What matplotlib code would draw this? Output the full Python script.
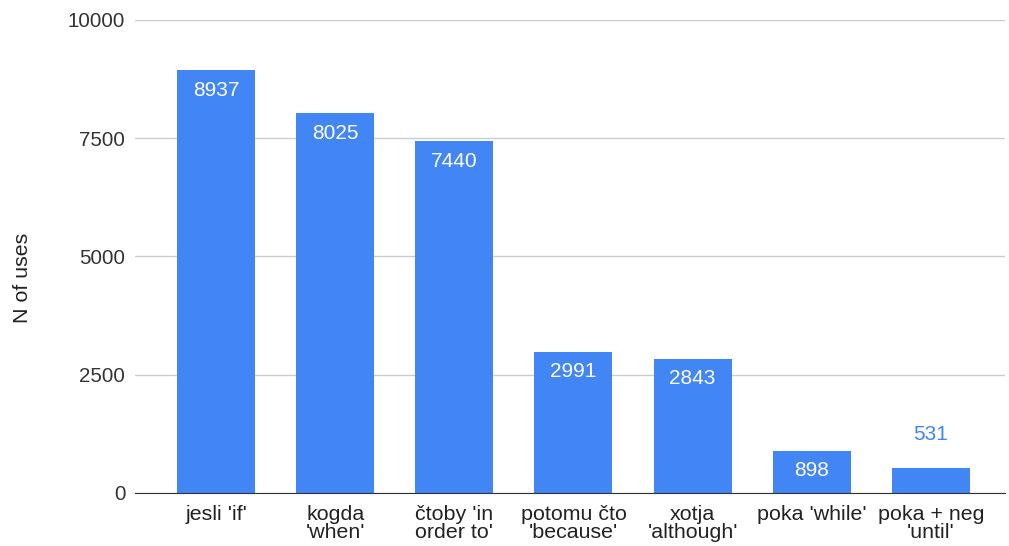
import matplotlib
matplotlib.use("Agg")
import matplotlib.pyplot as plt

plt.rcParams['font.family'] = ['Liberation Sans', 'DejaVu Sans']

categories = ["jesli 'if'", "kogda\n'when'", "čtoby 'in\norder to'", "potomu čto\n'because'",
              "xotja\n'although'", "poka 'while'", "poka + neg\n'until'"]
uses = [8937, 8025, 7440, 2991, 2843, 898, 531]
yticks = [0, 2500, 5000, 7500, 10000]

blue = '#4285F4'

fig = plt.figure(figsize=(10.09, 5.46), dpi=100)
ax = fig.add_axes([0.1338, 0.0971, 0.862, 0.8663])

x = range(len(categories))
bars = ax.bar(x, uses, width=0.655, color=blue, zorder=3)

# value labels: inside tall bars, above short ones
for b, v in zip(bars, uses):
    cx = b.get_x() + b.get_width() / 2
    if v > 800:
        ax.annotate(str(v), (cx, v), xytext=(0, -20), textcoords='offset pixels',
                    ha='center', va='center', color='white', fontsize=15, zorder=4)
    else:
        ax.annotate(str(v), (cx, v), xytext=(0, 33), textcoords='offset pixels',
                    ha='center', va='center', color=blue, fontsize=15, zorder=4)

ax.set_ylim(0, 10000)
ax.set_xlim(-0.68, 6.62)
ax.set_yticks(yticks)
ax.set_yticklabels([str(t) for t in yticks], fontsize=14.8, color='#333333')
ax.set_xticks(list(x))
ax.set_xticklabels(categories, fontsize=15.4, color='#222222', linespacing=0.92)
ax.tick_params(axis='both', length=0)
ax.tick_params(axis='y', pad=7)
ax.tick_params(axis='x', pad=9)

ax.grid(axis='y', color='#cccccc', linewidth=1, zorder=0)
for s in ['top', 'right', 'left']:
    ax.spines[s].set_visible(False)
ax.spines['bottom'].set_color('#333333')
ax.spines['bottom'].set_zorder(5)

ax.set_ylabel('N of uses', fontsize=15.4, color='#222222')
ax.yaxis.set_label_coords(-0.118, 0.455)

fig.savefig('out.png', dpi=100)
